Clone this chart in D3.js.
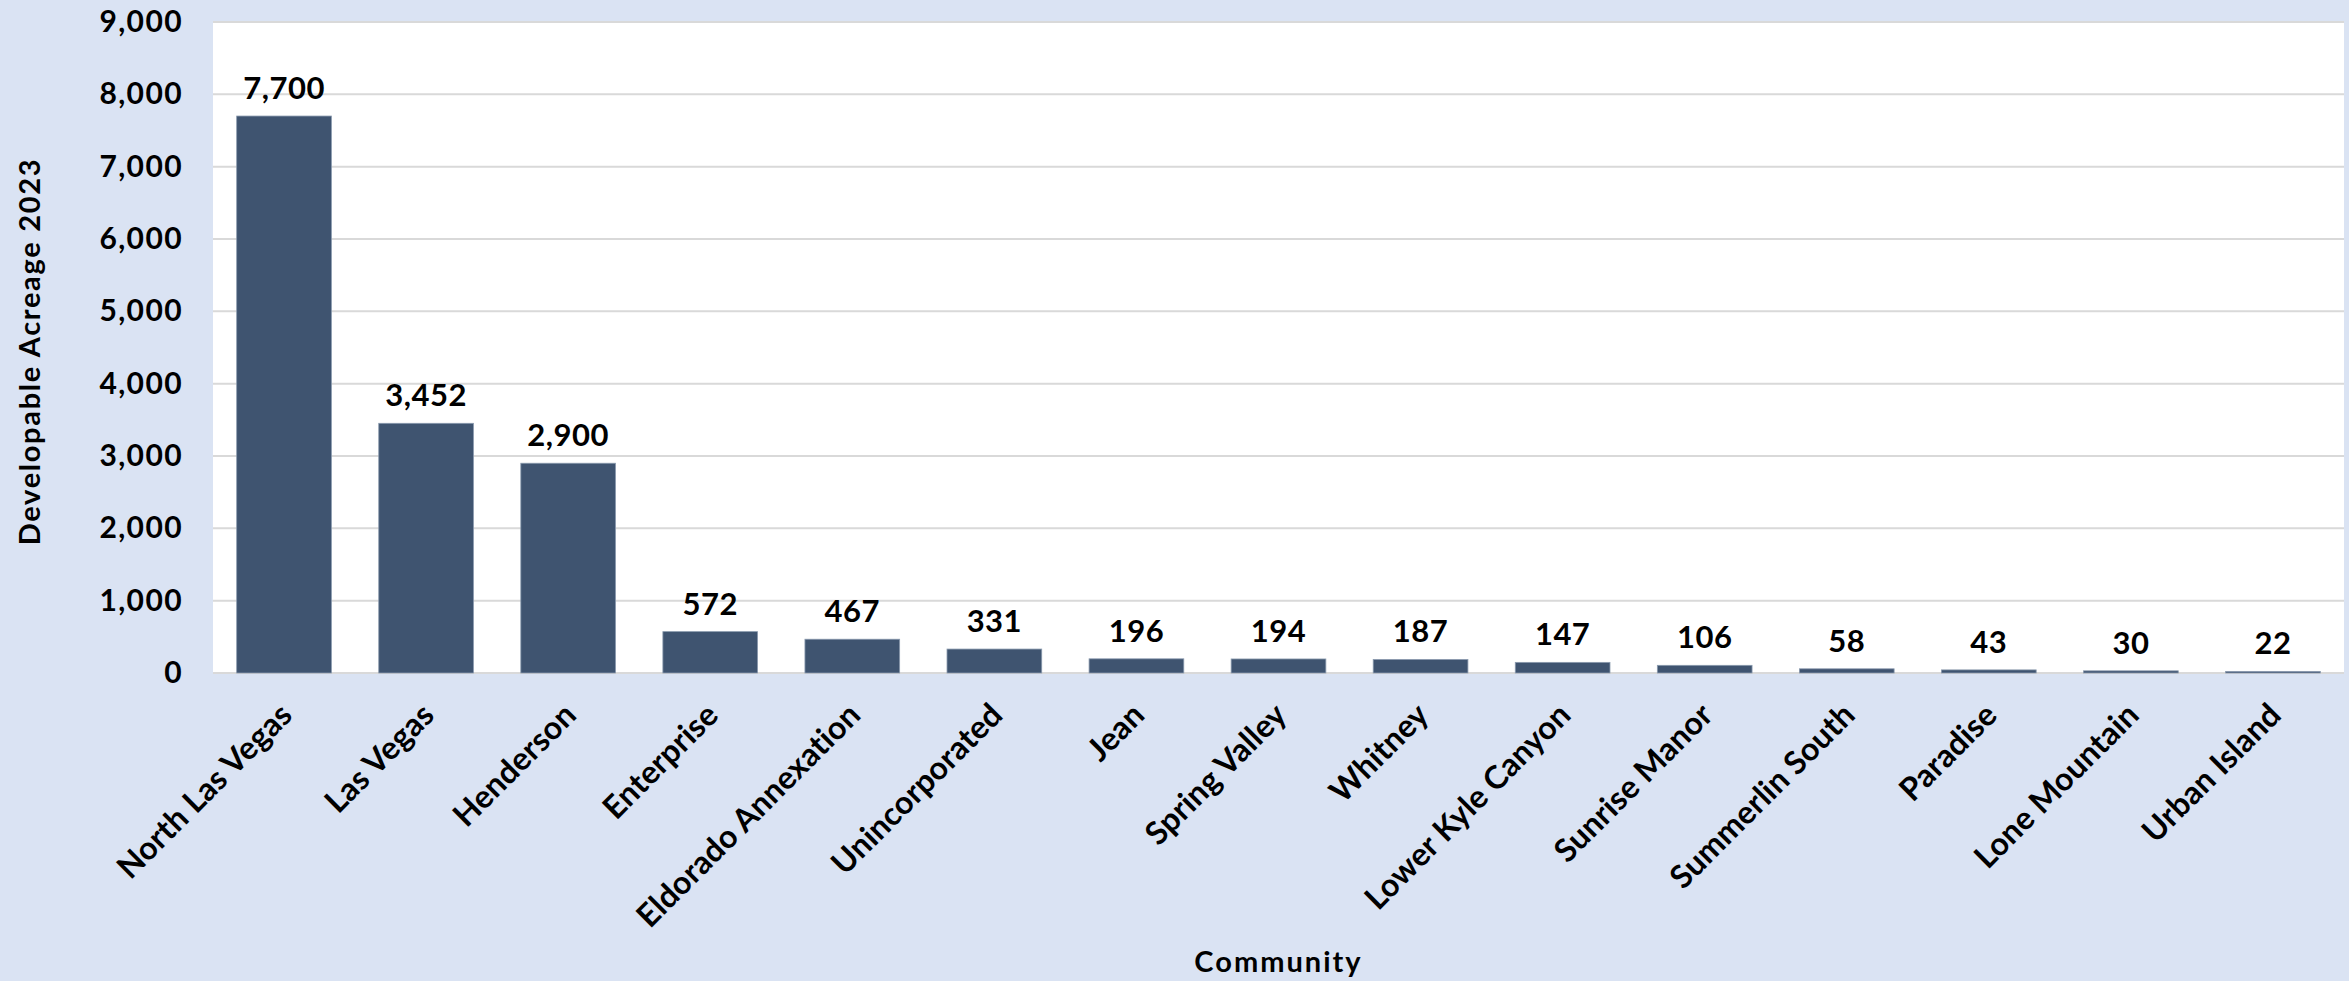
<!DOCTYPE html>
<html>
<head>
<meta charset="utf-8">
<script src="https://cdn.jsdelivr.net/npm/d3@7"></script>
<style>
  html, body { margin: 0; padding: 0; background: #DAE3F3; }
  svg { display: block; }
  text { font-family: Lato, "Open Sans", sans-serif; font-weight: 700; fill: #000; }
</style>
</head>
<body>
<svg id="chart" width="2349" height="981"></svg>
<script>
const categories = ["North Las Vegas", "Las Vegas", "Henderson", "Enterprise", "Eldorado Annexation",
  "Unincorporated", "Jean", "Spring Valley", "Whitney", "Lower Kyle Canyon", "Sunrise Manor",
  "Summerlin South", "Paradise", "Lone Mountain", "Urban Island"];
const values = [7700, 3452, 2900, 572, 467, 331, 196, 194, 187, 147, 106, 58, 43, 30, 22];
const yTicks = [0, 1000, 2000, 3000, 4000, 5000, 6000, 7000, 8000, 9000];
const yTitle = "Developable Acreage 2023";
const xTitle = "Community";

const W = 2349, H = 981;
const m = { left: 213, right: 5, top: 22, bottom: 308 };
const svg = d3.select("#chart");
svg.append("rect").attr("width", W).attr("height", H).attr("fill", "#DAE3F3");

const x = d3.scaleBand().domain(categories).range([m.left, W - m.right]).paddingInner(1/3).paddingOuter(1/6);
const y = d3.scaleLinear().domain([0, 9000]).range([H - m.bottom, m.top]);

svg.append("rect").attr("x", m.left).attr("y", m.top)
  .attr("width", W - m.right - m.left).attr("height", H - m.bottom - m.top).attr("fill", "#fff");

// gridlines
svg.append("g").selectAll("line").data(yTicks).join("line")
  .attr("x1", m.left).attr("x2", W - m.right)
  .attr("y1", d => y(d)).attr("y2", d => y(d))
  .attr("stroke", "#D9D9D9").attr("stroke-width", 2);

// y axis
const yAxis = svg.append("g").attr("transform", `translate(${m.left - 16},0)`)
  .call(d3.axisLeft(y).tickValues(yTicks).tickFormat(d3.format(",")).tickSize(0).tickPadding(14));
yAxis.select(".domain").remove();
yAxis.selectAll("text").attr("font-size", 30).style("font-family", "Lato").style("font-weight", 700)
  .style("letter-spacing", "1.4px").attr("fill", "#000");

// bars
svg.append("g").selectAll("rect").data(values).join("rect")
  .attr("x", (d, i) => x(categories[i]))
  .attr("width", x.bandwidth())
  .attr("y", d => y(d))
  .attr("height", d => y(0) - y(d))
  .attr("fill", "#3F5470")
  .attr("stroke", "#8A9AAE").attr("stroke-width", 0.8);

// data labels
svg.append("g").selectAll("text").data(values).join("text")
  .attr("x", (d, i) => x(categories[i]) + x.bandwidth() / 2)
  .attr("y", d => y(d) - 17)
  .attr("text-anchor", "middle")
  .attr("font-size", 31)
  .style("letter-spacing", "0.5px")
  .text(d => d3.format(",")(d));

// x axis
const xAxis = svg.append("g").attr("transform", `translate(0,${y(0)})`)
  .call(d3.axisBottom(x).tickSize(0).tickPadding(0));
xAxis.select(".domain").remove();
xAxis.selectAll("text")
  .attr("font-size", 32).style("font-family", "Lato").style("font-weight", 700).attr("fill", "#000")
  .style("letter-spacing", "0.1px")
  .attr("text-anchor", "end")
  .attr("dy", "0")
  .attr("transform", "translate(10,44) rotate(-45)");

// axis titles
svg.append("text").attr("x", (m.left + W - m.right) / 2).attr("y", 972)
  .attr("text-anchor", "middle").attr("font-size", 29).style("letter-spacing", "2px").text(xTitle);
svg.append("text").attr("transform", `translate(40,${(m.top + H - m.bottom) / 2 + 4}) rotate(-90)`)
  .attr("text-anchor", "middle").attr("font-size", 29).style("letter-spacing", "1.7px").text(yTitle);
</script>
</body>
</html>
